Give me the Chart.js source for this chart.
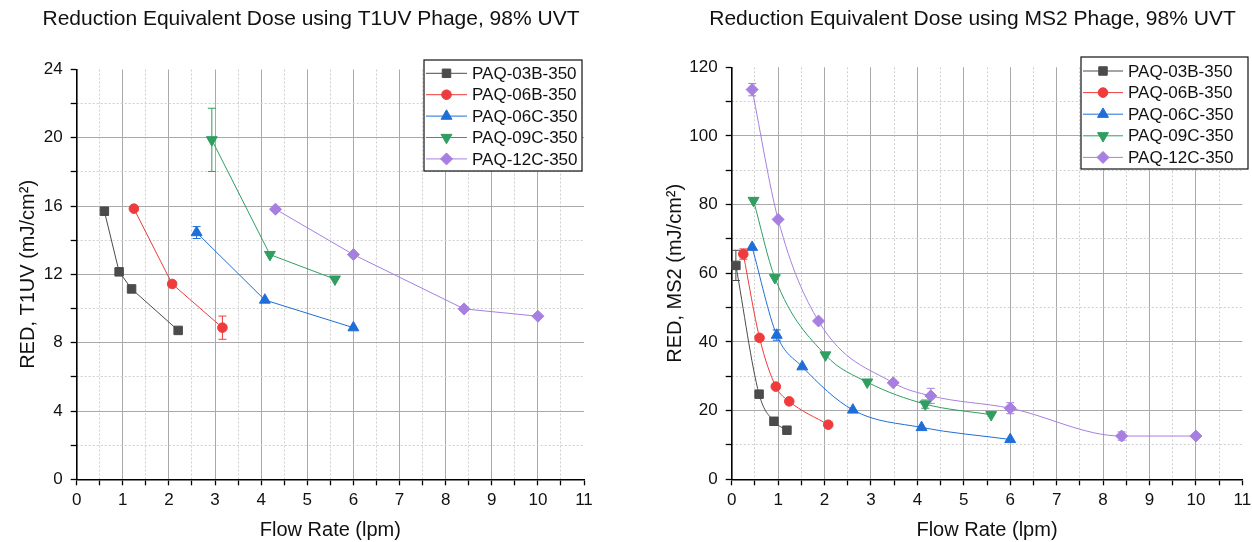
<!DOCTYPE html>
<html>
<head>
<meta charset="utf-8">
<script src="https://cdn.jsdelivr.net/npm/chart.js"></script>
<style>
body{margin:0;background:#fff;overflow:hidden;width:1252px;height:542px;position:relative}
canvas{position:absolute;top:0}
#t1uvChart{left:0}
#ms2Chart{left:626px}
</style>
</head>
<body>
<canvas id="t1uvChart" width="622" height="542"></canvas>
<canvas id="ms2Chart" width="660" height="542"></canvas>
<script>
'use strict'
// series shared by both plots
let seriesNames=['PAQ-03B-350','PAQ-06B-350','PAQ-06C-350','PAQ-09C-350','PAQ-12C-350'];
let seriesColors=['#4b4b4b','#ef3b3b','#1f6ed8','#2f9e60','#a77fe0'];
let seriesMarks=['rect','circle','triangle','triangle','rectRot'];
let seriesTurn=[0,0,0,180,0];
let seriesSize=[6,4.8,6.3,6.3,6];

// axis ticks
let flowTicks=[0,1,2,3,4,5,6,7,8,9,10,11];
let t1uvTicks=[0,4,8,12,16,20,24];
let ms2Ticks=[0,20,40,60,80,100,120];

// T1UV phage (left)
let t1uvFlow03B=[0.6,0.92,1.19,2.2];
let t1uvRed03B=[15.7,12.15,11.15,8.72];
let t1uvErr03B=[0,0,0,0];
let t1uvFlow06B=[1.24,2.07,3.16];
let t1uvRed06B=[15.85,11.44,8.88];
let t1uvErr06B=[0,0,0.68];
let t1uvFlow06C=[2.6,4.08,6.0];
let t1uvRed06C=[14.45,10.5,8.88];
let t1uvErr06C=[0.35,0,0];
let t1uvFlow09C=[2.93,4.19,5.6];
let t1uvRed09C=[19.88,13.16,11.72];
let t1uvErr09C=[1.85,0,0];
let t1uvFlow12C=[4.31,6.0,8.4,10.0];
let t1uvRed12C=[15.82,13.16,9.98,9.55];
let t1uvErr12C=[0,0,0,0];

// MS2 phage (right)
let ms2Flow03B=[0.09,0.59,0.91,1.19];
let ms2Red03B=[62.3,24.8,16.9,14.3];
let ms2Err03B=[4.4,0,0,0];
let ms2Flow06B=[0.25,0.6,0.95,1.24,2.08];
let ms2Red06B=[65.6,41.2,27.0,22.7,15.9];
let ms2Err06B=[1.5,0,0,0,0];
let ms2Flow06C=[0.44,0.97,1.52,2.61,4.09,6.0];
let ms2Red06C=[67.6,42.0,32.8,20.2,15.1,11.6];
let ms2Err06C=[0,1.5,0,0,0,0];
let ms2Flow09C=[0.47,0.93,2.02,2.92,4.17,5.59];
let ms2Red09C=[81.2,58.7,36.2,28.3,21.9,18.8];
let ms2Err09C=[0,0,0,0,1.2,0];
let ms2Flow12C=[0.44,1.0,1.87,3.48,4.29,6.0,8.4,10.0];
let ms2Red12C=[113.5,75.7,46.1,28.1,24.3,20.7,12.6,12.6];
let ms2Err12C=[1.8,0,0,0,2.2,1.6,1.2,0];

Chart.defaults.font.family='"Liberation Sans", Arial, sans-serif';
Chart.defaults.color='#111';

let majorGrid='#a9a9a9';
let minorGrid='#cfcfcf';
let clear='rgba(0,0,0,0)';

function makeSets(flows,reds,errs,curve){
  let sets=[];
  for(let i=0;i<seriesNames.length;i++){
    let pts=[];
    for(let j=0;j<flows[i].length;j++){
      pts.push({x:flows[i][j],y:reds[i][j]});
    }
    sets.push({
      label:seriesNames[i],
      data:pts,
      errs:errs[i],
      showLine:true,
      clip:10,
      borderColor:seriesColors[i],
      backgroundColor:seriesColors[i],
      borderWidth:1,
      pointStyle:seriesMarks[i],
      pointRotation:seriesTurn[i],
      pointRadius:seriesSize[i],
      pointHoverRadius:seriesSize[i],
      pointBorderWidth:1,
      tension:curve?0.4:0,
      cubicInterpolationMode:curve?'monotone':'default'
    });
  }
  return sets;
}

// vertical error bars, drawn under the markers
const errBarPlugin={
  id:'errBars',
  beforeDatasetsDraw(chart){
    let ctx=chart.ctx, xs=chart.scales.x, ys=chart.scales.y;
    ctx.save();
    chart.data.datasets.forEach(ds=>{
      ctx.strokeStyle=ds.borderColor;
      ctx.lineWidth=1;
      ds.data.forEach((p,j)=>{
        let e=ds.errs[j];
        if(!e) return;
        let px=xs.getPixelForValue(p.x);
        let top=ys.getPixelForValue(p.y+e);
        let bot=ys.getPixelForValue(p.y-e);
        ctx.beginPath();
        ctx.moveTo(px,top);ctx.lineTo(px,bot);
        ctx.moveTo(px-4,top);ctx.lineTo(px+4,top);
        ctx.moveTo(px-4,bot);ctx.lineTo(px+4,bot);
        ctx.stroke();
      });
    });
    ctx.restore();
  }
};

// boxed legend with line + marker samples
const boxLegendPlugin={
  id:'boxLegend',
  afterDraw(chart,args,opts){
    let ctx=chart.ctx;
    ctx.save();
    ctx.fillStyle='#fff';
    ctx.fillRect(opts.x,opts.y,opts.w,opts.h);
    ctx.strokeStyle='#111';
    ctx.lineWidth=1.2;
    ctx.strokeRect(opts.x,opts.y,opts.w,opts.h);
    ctx.font='17px "Liberation Sans", Arial, sans-serif';
    ctx.textBaseline='middle';
    chart.data.datasets.forEach((ds,i)=>{
      let cy=opts.y+opts.first+i*opts.step;
      ctx.strokeStyle=ds.borderColor;
      ctx.lineWidth=1;
      ctx.beginPath();
      ctx.moveTo(opts.x+2,cy);
      ctx.lineTo(opts.x+2+opts.line,cy);
      ctx.stroke();
      ctx.fillStyle=ds.backgroundColor;
      if(Chart.helpers && Chart.helpers.drawPoint){
        Chart.helpers.drawPoint(ctx,{pointStyle:ds.pointStyle,rotation:ds.pointRotation,radius:ds.pointRadius,borderWidth:1},opts.x+2+opts.line/2,cy);
      }
      ctx.fillStyle='#111';
      ctx.fillText(ds.label,opts.x+opts.textX,cy+1);
    });
    ctx.restore();
  }
};

function makeChart(id,o){
  let xMax=flowTicks[flowTicks.length-1];
  let yTicks=o.yTicks;
  let yMax=yTicks[yTicks.length-1];
  let yStep=(yTicks[1]-yTicks[0])/2;
  let xStep=(flowTicks[1]-flowTicks[0])/2;
  let isMajorX=v=>flowTicks.includes(v);
  let isMajorY=v=>yTicks.includes(v);
  return new Chart(document.getElementById(id),{
    type:'scatter',
    data:{datasets:makeSets(o.flows,o.reds,o.errs,o.curve)},
    options:{
      responsive:false,
      animation:false,
      events:[],
      layout:{padding:{left:o.padL,right:o.padR,top:0,bottom:0}},
      plugins:{
        legend:{display:false},
        tooltip:{enabled:false},
        title:{display:true,text:o.title,color:'#111',font:{size:21,weight:'normal'},padding:{top:7,bottom:o.titleGap}},
        boxLegend:o.legendBox
      },
      scales:{
        x:{
          type:'linear',position:'bottom',min:0,max:xMax,
          afterFit:s=>{s.height=o.xHeight;},
          ticks:{stepSize:xStep,autoSkip:false,maxRotation:0,padding:5,color:'#111',font:{size:17},
            callback:v=>isMajorX(v)?v:''},
          grid:{color:c=>(c.tick&&isMajorX(c.tick.value)&&c.tick.value>0&&c.tick.value<xMax)?majorGrid:clear,
            tickColor:'#000',tickLength:6,tickWidth:1.3},
          border:{color:'#000',width:1.6},
          title:{display:true,text:'Flow Rate (lpm)',color:'#111',font:{size:20},padding:{top:0,bottom:0}}
        },
        xMinor:{
          type:'linear',axis:'x',position:'bottom',min:0,max:xMax,
          afterFit:s=>{s.height=0;},
          ticks:{display:false,stepSize:xStep,autoSkip:false},
          grid:{drawTicks:false,color:c=>(c.tick&&!isMajorX(c.tick.value))?minorGrid:clear},
          border:{display:false,dash:[2,2]}
        },
        y:{
          type:'linear',position:'left',min:0,max:yMax,
          afterFit:s=>{s.width=o.yWidth;},
          ticks:{stepSize:yStep,autoSkip:false,padding:8,color:'#111',font:{size:17},
            callback:v=>isMajorY(v)?v:''},
          grid:{color:c=>(c.tick&&isMajorY(c.tick.value)&&c.tick.value>0&&c.tick.value<yMax)?majorGrid:clear,
            tickColor:'#000',tickLength:6,tickWidth:1.3},
          border:{color:'#000',width:1.6},
          title:{display:true,text:o.yTitle,color:'#111',font:{size:20},padding:{top:0,bottom:0}}
        },
        // minor grid scale sits on the right; its width balances the title centre
        yMinor:{
          type:'linear',axis:'y',position:'right',min:0,max:yMax,
          afterFit:s=>{s.width=o.rightGap;},
          ticks:{display:false,stepSize:yStep,autoSkip:false},
          grid:{drawTicks:false,color:c=>(c.tick&&!isMajorY(c.tick.value))?minorGrid:clear},
          border:{display:false,dash:[2,2]}
        }
      }
    },
    plugins:[errBarPlugin,boxLegendPlugin]
  });
}

makeChart('t1uvChart',{
  title:'Reduction Equivalent Dose using T1UV Phage, 98% UVT',
  yTitle:'RED, T1UV (mJ/cm\u00b2)',
  yTicks:t1uvTicks,
  flows:[t1uvFlow03B,t1uvFlow06B,t1uvFlow06C,t1uvFlow09C,t1uvFlow12C],
  reds:[t1uvRed03B,t1uvRed06B,t1uvRed06C,t1uvRed09C,t1uvRed12C],
  errs:[t1uvErr03B,t1uvErr06B,t1uvErr06C,t1uvErr09C,t1uvErr12C],
  curve:false,
  padL:16,padR:16,yWidth:60.7,rightGap:22,titleGap:37.3,xHeight:62.7,
  legendBox:{x:424,y:60,w:158,h:111,first:13.3,step:21.4,line:41,textX:48}
});

makeChart('ms2Chart',{
  title:'Reduction Equivalent Dose using MS2 Phage, 98% UVT',
  yTitle:'RED, MS2 (mJ/cm\u00b2)',
  yTicks:ms2Ticks,
  flows:[ms2Flow03B,ms2Flow06B,ms2Flow06C,ms2Flow09C,ms2Flow12C],
  reds:[ms2Red03B,ms2Red06B,ms2Red06C,ms2Red09C,ms2Red12C],
  errs:[ms2Err03B,ms2Err06B,ms2Err06C,ms2Err09C,ms2Err12C],
  curve:true,
  padL:37,padR:4,yWidth:68.7,rightGap:39.7,titleGap:35.1,xHeight:62.7,
  legendBox:{x:455,y:57,w:167,h:112,first:14,step:21.6,line:40,textX:47}
});
</script>
</body>
</html>
